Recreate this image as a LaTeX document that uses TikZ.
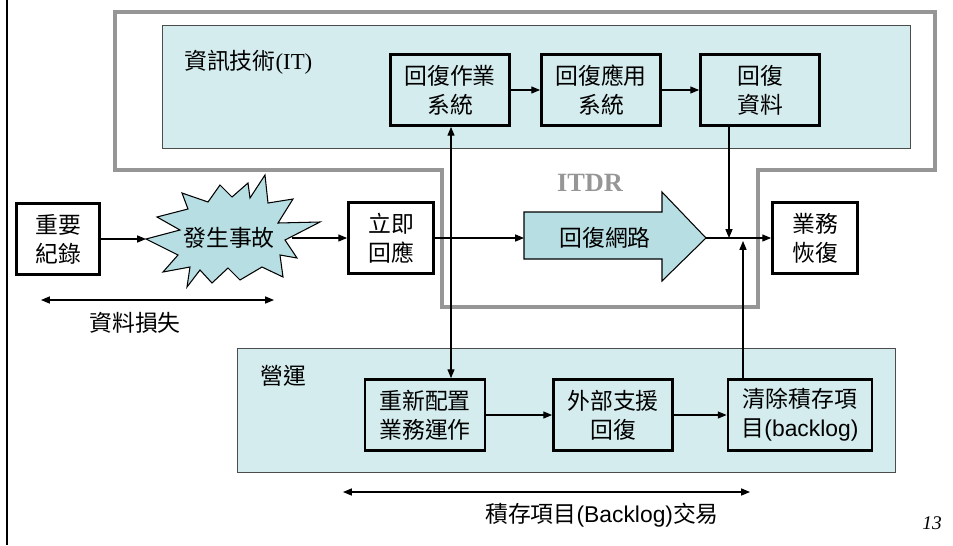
\documentclass[tikz,border=0pt]{standalone}
\usepackage{fontspec}
\setmainfont{Liberation Serif}
\newfontfamily\cjk{Noto Sans CJK TC}
\newfontfamily\lat{Liberation Sans}
\usetikzlibrary{positioning, arrows.meta}
\definecolor{shade}{RGB}{183,222,226}
\definecolor{zone}{RGB}{212,236,238}
\definecolor{frame}{RGB}{150,150,150}
\tikzset{
>={Triangle[length=5pt,width=4pt]}, % small filled arrow heads
every node/.style={font=\cjk\fontsize{13}{16.5}\selectfont, align=center}, % all labels in the CJK face
task/.style={draw, line width=1.6pt, minimum width=2.38cm, minimum height=1.42cm, inner sep=1pt}, % one recovery step
zonebox/.style={draw=black!70, fill=zone}, % IT and operations areas
link/.style={->, line width=0.6pt}, % plain connector
}

\begin{document}
\begin{tikzpicture}[x=0.02cm, y=-0.02cm]
    \useasboundingbox (0,0) rectangle (953,545);
    \draw[line width=1.5pt] (7,0) -- (7,545);
    % ITDR frame
    \draw[frame, line width=1.8pt] (115,12) -- (935,12) -- (935,170) -- (758,170) -- (758,307)
        -- (442,307) -- (442,170) -- (115,170) -- cycle;
    \node[font=\rmfamily\bfseries\fontsize{15}{15}\selectfont, text=frame] (itdr) at (590,183) {ITDR};
    % areas
    \draw[zonebox] (162,25) rectangle (910,148);
    \draw[zonebox] (237,348) rectangle (895,472);
    \node[anchor=west] (itLabel) at (178,62) {資訊技術{\rmfamily(IT)}};
    \node[anchor=west] (opsLabel) at (254,376) {營運};

    \node[task] (sysOS) at (450,90) {回復作業\\系統};
    \node[task] (sysApp) at (601,90) {回復應用\\系統};
    \node[task] (sysData) at (760,90) {回復\\資料};
    \node[task, minimum width=1.66cm] (record) at (58,239) {重要\\紀錄};
    \node[task, minimum width=1.7cm] (respond) at (391,238) {立即\\回應};
    \node[task, minimum width=1.7cm] (resume) at (815,238) {業務\\恢復};
    \node[task, minimum width=2.4cm] (reconfig) at (425,415) {重新配置\\業務運作};
    \node[task] (support) at (613,415) {外部支援\\回復};
    \node[task, minimum width=2.88cm] (backlog) at (800,415) {清除積存項\\目{\lat(backlog)}};

    % incident burst
    \draw[fill=shade, line width=0.6pt] (146,239) -- (180,230) -- (157,217) -- (188,209) -- (182,193)
        -- (208,202) -- (220,185) -- (232,197) -- (248,183) -- (250,198) -- (265,175) -- (268,203)
        -- (293,199) -- (278,223) -- (320,222) -- (285,240) -- (297,258) -- (280,255) -- (283,277)
        -- (262,267) -- (240,280) -- (228,268) -- (212,283) -- (200,270) -- (187,287) -- (190,267)
        -- (163,272) -- (178,255) -- cycle;
    \node (incident) at (229,238) {發生事故};
    % network arrow
    \draw[fill=shade, line width=0.6pt] (524,212) -- (662,212) -- (662,192) -- (706,238)
        -- (662,281) -- (662,259) -- (524,259) -- cycle;
    \node (network) at (605,238) {回復網路};

    \coordinate (burstIn) at (146,239);
    \coordinate (burstOut) at (292,238);
    \coordinate (netIn) at (524,238);
    \coordinate (netOut) at (706,238);
    \coordinate (split) at (451,238);
    \coordinate (joinA) at (729,238);
    \coordinate (joinB) at (743,241);
    \draw[link] (record.east |- burstIn) -- (burstIn);
    \draw[link] (burstOut) -- (respond);
    \draw[link] (respond) -- (netIn);
    \draw[link] (netOut) -- (resume);
    \draw[link] (sysOS) -- (sysApp);
    \draw[link] (sysApp) -- (sysData);
    \draw[link] (reconfig) -- (support);
    \draw[link] (support) -- (backlog);
    \draw[link] (split) -- (split |- sysOS.south);
    \draw[link] (split) -- (split |- reconfig.north);
    \draw[link] (sysData.south -| joinA) -- (joinA);
    \draw[link] (backlog.north -| joinB) -- (joinB);

    % spans
    \coordinate (lossL) at (41,300);
    \coordinate (lossR) at (274,300);
    \draw[<->, line width=0.6pt] (lossL) -- (lossR);
    \node (loss) at (135,323) {資料損失};
    \coordinate (tradeL) at (343,492);
    \coordinate (tradeR) at (750,492);
    \draw[<->, line width=0.6pt] (tradeL) -- (tradeR);
    \node (trade) at (602,515) {積存項目{\lat(Backlog)}交易};
    \node[font=\rmfamily\itshape\fontsize{11}{11}\selectfont] (page) at (932,523) {13};
\end{tikzpicture}
\end{document}
